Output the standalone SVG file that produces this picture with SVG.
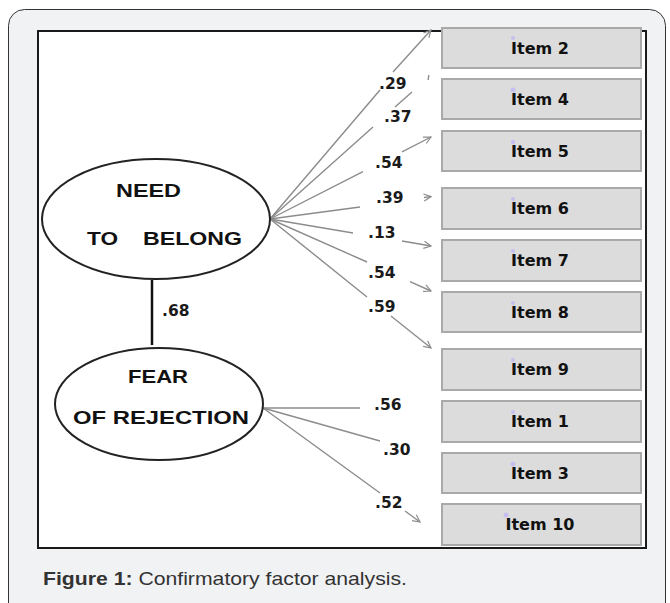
<svg xmlns="http://www.w3.org/2000/svg" width="670" height="603" viewBox="0 0 670 603">
<defs>
<style>
.item rect{fill:#dcdcdc;stroke:#a9a9a9;stroke-width:2}
.item text{font-family:"DejaVu Sans",Verdana,sans-serif;font-weight:bold;font-size:16px;fill:#111;text-anchor:middle}
.item circle{fill:#c6c0f0}
.lat ellipse{fill:#fff;stroke:#222;stroke-width:2}
.lat text{font-family:"Liberation Sans",Arial,sans-serif;font-weight:bold;font-size:18.5px;fill:#111}
.conn path{fill:none;stroke:#8c8c8c;stroke-width:1.4}
.lbl{font-family:"DejaVu Sans",Verdana,sans-serif;font-weight:bold;font-size:15.5px;fill:#1a1a1a}
</style>
<marker id="ah" viewBox="0 0 10 10" refX="9" refY="5" markerWidth="9" markerHeight="9" markerUnits="userSpaceOnUse" orient="auto">
<path d="M1,1 L9,5 L1,9" fill="none" stroke="#8c8c8c" stroke-width="1.3"/>
</marker>
</defs>
<rect x="0" y="0" width="670" height="603" fill="#fff"/>
<rect x="8.5" y="9.5" width="657" height="610" rx="16" fill="#f1f2f4" stroke="#333" stroke-width="1"/>
<rect x="38" y="31" width="608" height="517" fill="#fff" stroke="#1a1a1a" stroke-width="2"/>

<g id="item2" class="item"><rect x="442" y="28" width="199" height="40"/><circle cx="513" cy="38" r="2"/><text x="540" y="54">Item 2</text></g>
<g id="item4" class="item"><rect x="442" y="79" width="199" height="40"/><circle cx="513" cy="90" r="2.5"/><text x="540" y="105">Item 4</text></g>
<g id="item5" class="item"><rect x="442" y="131" width="199" height="40"/><circle cx="513" cy="142" r="2.2"/><text x="540" y="157">Item 5</text></g>
<g id="item6" class="item"><rect x="442" y="188" width="199" height="41"/><circle cx="513" cy="199" r="2"/><text x="540" y="214">Item 6</text></g>
<g id="item7" class="item"><rect x="442" y="240" width="199" height="41"/><circle cx="513" cy="251" r="2"/><text x="540" y="266">Item 7</text></g>
<g id="item8" class="item"><rect x="442" y="292" width="199" height="40"/><circle cx="513" cy="303" r="2"/><text x="540" y="318">Item 8</text></g>
<g id="item9" class="item"><rect x="442" y="349" width="199" height="41"/><circle cx="513" cy="360" r="2"/><text x="540" y="375">Item 9</text></g>
<g id="item1" class="item"><rect x="442" y="401" width="199" height="41"/><circle cx="513" cy="412" r="2"/><text x="540" y="427">Item 1</text></g>
<g id="item3" class="item"><rect x="442" y="453" width="199" height="40"/><circle cx="513" cy="464" r="2.5"/><text x="540" y="479">Item 3</text></g>
<g id="item10" class="item"><rect x="442" y="504" width="199" height="41"/><circle cx="506" cy="515" r="2.5"/><text x="540" y="530">Item 10</text></g>

<g id="connectors" class="conn">
<path d="M270,219 L380,90 M393,72 L431,30" marker-end="url(#ah)"/>
<path d="M270,219 L373,127 M395,107 L412,92 M428.8,75 L428.2,80"/>
<path d="M270,219 L363,171.6 M402,151.8 L431,137" marker-end="url(#ah)"/>
<path d="M270,219 L360,207 M424,197.5 L431,196.6" marker-end="url(#ah)"/>
<path d="M270,219 L353,233 M402,241 L431,246" marker-end="url(#ah)"/>
<path d="M270,219 L367,262 M410,281.6 L431,291" marker-end="url(#ah)"/>
<path d="M270,219 L367,297 M391,316 L431,348" marker-end="url(#ah)"/>
<path d="M263,408 L360,408"/>
<path d="M263,408 L380,441"/>
<path d="M263,408 L380,493 M405,511 L420,522" marker-end="url(#ah)"/>
<path d="M152,280 L152,345" style="stroke:#111;stroke-width:2.5"/>
</g>

<g id="need" class="lat">
<ellipse cx="156" cy="219" rx="114" ry="60"/>
<text x="116" y="197" textLength="65" lengthAdjust="spacingAndGlyphs">NEED</text>
<text y="245"><tspan x="87" textLength="31" lengthAdjust="spacingAndGlyphs">TO</tspan><tspan x="143" textLength="99" lengthAdjust="spacingAndGlyphs">BELONG</tspan></text>
</g>
<g id="fear" class="lat">
<ellipse cx="159" cy="404" rx="104" ry="56"/>
<text x="128" y="383" textLength="60" lengthAdjust="spacingAndGlyphs">FEAR</text>
<text x="73" y="424" textLength="176" lengthAdjust="spacingAndGlyphs">OF REJECTION</text>
</g>

<g id="labels">
<text class="lbl" x="379" y="89">.29</text>
<text class="lbl" x="384" y="122">.37</text>
<text class="lbl" x="375" y="168">.54</text>
<text class="lbl" x="376" y="203">.39</text>
<text class="lbl" x="368" y="238">.13</text>
<text class="lbl" x="368" y="278">.54</text>
<text class="lbl" x="368" y="312">.59</text>
<text class="lbl" x="162" y="316">.68</text>
<text class="lbl" x="374" y="410">.56</text>
<text class="lbl" x="383" y="455">.30</text>
<text class="lbl" x="375" y="508">.52</text>
</g>

<text x="43" y="585" textLength="364" lengthAdjust="spacingAndGlyphs" style="font-family:'Liberation Sans',Arial,sans-serif;font-size:19px;fill:#333"><tspan font-weight="bold">Figure 1:</tspan> Confirmatory factor analysis.</text>
</svg>
